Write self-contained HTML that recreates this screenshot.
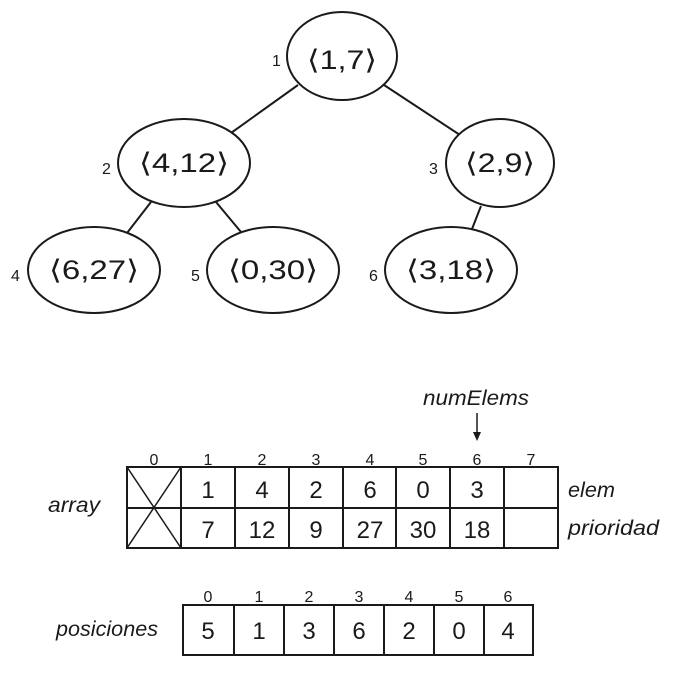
<!DOCTYPE html>
<html><head><meta charset="utf-8"><style>
html,body{margin:0;padding:0;background:#fff;}
svg{display:block}
text{font-family:"Liberation Sans",sans-serif;fill:#1a1a1a;}
</style></head><body>
<svg width="680" height="685" viewBox="0 0 680 685" xmlns="http://www.w3.org/2000/svg">
<g stroke="#1a1a1a" stroke-width="2" fill="none">
<line x1="298" y1="85" x2="231" y2="133"/>
<line x1="384" y1="85" x2="460" y2="135"/>
<line x1="151" y1="202" x2="127" y2="233"/>
<line x1="216" y1="202" x2="241" y2="232"/>
<line x1="481" y1="206" x2="472" y2="229"/>
<ellipse cx="342" cy="56" rx="55" ry="44" fill="#fff"/>
<ellipse cx="184" cy="163" rx="66" ry="44" fill="#fff"/>
<ellipse cx="500" cy="163" rx="54" ry="44" fill="#fff"/>
<ellipse cx="94" cy="270" rx="66" ry="43" fill="#fff"/>
<ellipse cx="273" cy="270" rx="66" ry="43" fill="#fff"/>
<ellipse cx="451" cy="270" rx="66" ry="43" fill="#fff"/>
</g>
<g font-size="27">
<text x="307" y="69" textLength="70" lengthAdjust="spacingAndGlyphs">⟨1,7⟩</text>
<text x="139" y="172" textLength="90" lengthAdjust="spacingAndGlyphs">⟨4,12⟩</text>
<text x="465" y="172" textLength="70" lengthAdjust="spacingAndGlyphs">⟨2,9⟩</text>
<text x="49" y="279" textLength="90" lengthAdjust="spacingAndGlyphs">⟨6,27⟩</text>
<text x="228" y="279" textLength="90" lengthAdjust="spacingAndGlyphs">⟨0,30⟩</text>
<text x="406" y="279" textLength="90" lengthAdjust="spacingAndGlyphs">⟨3,18⟩</text>
</g>
<g font-size="16">
<text x="272" y="66">1</text>
<text x="102" y="174">2</text>
<text x="429" y="174">3</text>
<text x="11" y="281">4</text>
<text x="191" y="281">5</text>
<text x="369" y="281">6</text>
</g>
<text x="423" y="405" font-size="21" font-style="italic" textLength="106" lengthAdjust="spacingAndGlyphs">numElems</text>
<line x1="477" y1="413" x2="477" y2="436" stroke="#1a1a1a" stroke-width="1.5"/>
<path d="M473 432 L477 441 L481 432 Z" fill="#1a1a1a"/>
<g stroke="#1a1a1a" stroke-width="2" fill="none">
<rect x="127" y="467" width="431" height="81"/>
<line x1="127" y1="508" x2="558" y2="508"/>
<line x1="181" y1="467" x2="181" y2="548"/>
<line x1="235" y1="467" x2="235" y2="548"/>
<line x1="289" y1="467" x2="289" y2="548"/>
<line x1="343" y1="467" x2="343" y2="548"/>
<line x1="396" y1="467" x2="396" y2="548"/>
<line x1="450" y1="467" x2="450" y2="548"/>
<line x1="504" y1="467" x2="504" y2="548"/>
<line x1="127" y1="467" x2="181" y2="548" stroke-width="1.5"/>
<line x1="181" y1="467" x2="127" y2="548" stroke-width="1.5"/>
</g>
<g font-size="16" text-anchor="middle">
<text x="154" y="465">0</text><text x="208" y="465">1</text><text x="262" y="465">2</text><text x="316" y="465">3</text>
<text x="370" y="465">4</text><text x="423" y="465">5</text><text x="477" y="465">6</text><text x="531" y="465">7</text>
</g>
<g font-size="24" text-anchor="middle">
<text x="208" y="498">1</text><text x="262" y="498">4</text><text x="316" y="498">2</text><text x="370" y="498">6</text><text x="423" y="498">0</text><text x="477" y="498">3</text>
<text x="208" y="538">7</text><text x="262" y="538">12</text><text x="316" y="538">9</text><text x="370" y="538">27</text><text x="423" y="538">30</text><text x="477" y="538">18</text>
</g>
<g font-size="21" font-style="italic">
<text x="48" y="512" textLength="52" lengthAdjust="spacingAndGlyphs">array</text>
<text x="568" y="497" textLength="47" lengthAdjust="spacingAndGlyphs">elem</text>
<text x="568" y="535" textLength="91" lengthAdjust="spacingAndGlyphs">prioridad</text>
<text x="56" y="636" textLength="102" lengthAdjust="spacingAndGlyphs">posiciones</text>
</g>
<g stroke="#1a1a1a" stroke-width="2" fill="none">
<rect x="183" y="605" width="350" height="50"/>
<line x1="234" y1="605" x2="234" y2="655"/>
<line x1="284" y1="605" x2="284" y2="655"/>
<line x1="334" y1="605" x2="334" y2="655"/>
<line x1="384" y1="605" x2="384" y2="655"/>
<line x1="434" y1="605" x2="434" y2="655"/>
<line x1="484" y1="605" x2="484" y2="655"/>
</g>
<g font-size="16" text-anchor="middle">
<text x="208" y="602">0</text><text x="259" y="602">1</text><text x="309" y="602">2</text><text x="359" y="602">3</text>
<text x="409" y="602">4</text><text x="459" y="602">5</text><text x="508" y="602">6</text>
</g>
<g font-size="24" text-anchor="middle">
<text x="208" y="639">5</text><text x="259" y="639">1</text><text x="309" y="639">3</text><text x="359" y="639">6</text>
<text x="409" y="639">2</text><text x="459" y="639">0</text><text x="508" y="639">4</text>
</g>
</svg>
</body></html>
